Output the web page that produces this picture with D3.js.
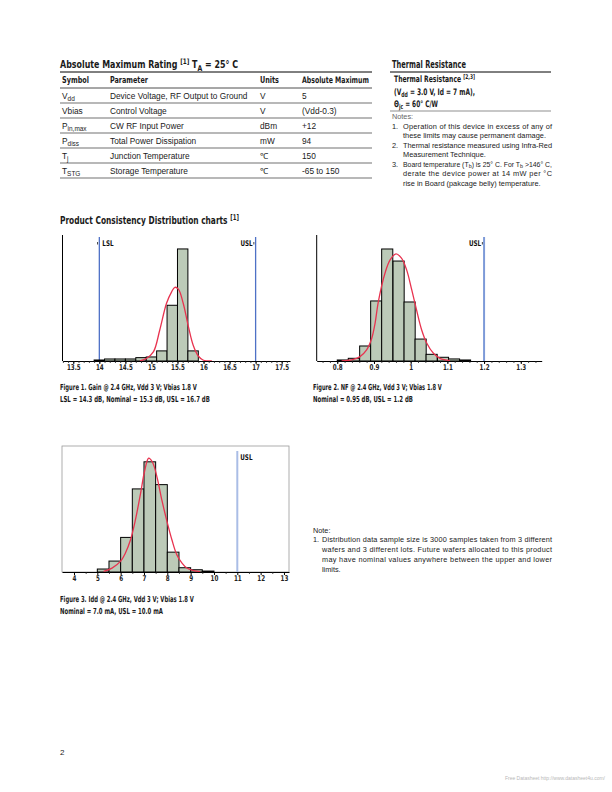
<!DOCTYPE html>
<html><head><meta charset="utf-8">
<script src="https://cdn.jsdelivr.net/npm/d3@7/dist/d3.min.js"></script>
<style>body{margin:0;background:#fff} text{white-space:pre}</style>
</head><body>
<svg id="page" width="612" height="792"></svg>
<script>
// ---------------- DATA ----------------
// Figure 1: Gain
const gainBinStart = [13.9,14.1,14.3,14.5,14.7,14.9,15.1,15.3,15.5,15.7];
const gainBinWidth = 0.2;
const gainCounts = [15,30,30,30,50,60,150,827,1663,150];
const gainFitX = [14.78,14.91,15.04,15.16,15.29,15.39,15.45,15.52,15.61,15.71,15.80,15.90,15.99,16.16];
const gainFitY = [0,40,138,460,856,1030,1094,1064,857,510,238,74,15,0];
const gainTicks = [13.5,14,14.5,15,15.5,16,16.5,17,17.5];
const gainTickLabels = ["13.5","14","14.5","15","15.5","16","16.5","17","17.5"];
const gainLimitNames = ["LSL","USL"];
const gainLimitValues = [14,17];

// Figure 2: NF
const nfBinStart = [0.800,0.830,0.861,0.891,0.921,0.952,0.982,1.012,1.042,1.073,1.103,1.133];
const nfBinWidth = 0.0303;
const nfCounts = [8,21,117,468,873,779,460,171,52,29,16,8];
const nfFitX = [0.812,0.844,0.862,0.880,0.894,0.903,0.912,0.930,0.944,0.960,0.975,0.989,1.003,1.016,1.030,1.044,1.062,1.080,1.107];
const nfFitY = [0,13,34,86,177,294,463,684,788,835,801,710,554,398,242,138,60,21,3];
const nfTicks = [0.8,0.9,1.0,1.1,1.2,1.3];
const nfTickLabels = ["0.8","0.9","1","1.1","1.2","1.3"];
const nfLimitNames = ["USL"];
const nfLimitValues = [1.2];

// Figure 3: Idd
const iddBinStart = [5.0,5.5,6.0,6.5,7.0,7.5,8.0,8.5,9.0,9.5];
const iddBinWidth = 0.5;
const iddCounts = [25,92,291,699,927,735,167,36,19,8];
const iddFitX = [5.27,5.63,5.99,6.20,6.42,6.63,6.85,7.03,7.20,7.37,7.56,7.77,7.99,8.20,8.41,8.63,8.84,9.13,9.41];
const iddFitY = [5,33,89,158,269,436,658,852,957,921,796,602,422,269,144,75,33,11,3];
const iddTicks = [4,5,6,7,8,9,10,11,12,13];
const iddTickLabels = ["4","5","6","7","8","9","10","11","12","13"];
const iddLimitNames = ["USL"];
const iddLimitValues = [11];

// Absolute maximum rating table
const absHeader = ["Symbol","Parameter","Units","Absolute Maximum"];
const absSymbols = [[["V"],["dd","sub"]],[["Vbias"]],[["P"],["in,max","sub"]],[["P"],["diss","sub"]],[["T"],["j","sub"]],[["T"],["STG","sub"]]];
const absParams = ["Device Voltage, RF Output to Ground","Control Voltage","CW RF Input Power","Total Power Dissipation","Junction Temperature","Storage Temperature"];
const absUnits = ["V","V","dBm","mW","\u2103","\u2103"];
const absMax = ["5","(Vdd-0.3)","+12","94","150","-65 to 150"];

// ---------------- DRAWING ----------------
const svg = d3.select("#page");
const BOLD = "'Liberation Sans Narrow','DejaVu Sans Condensed',sans-serif";
const BODY = "'Liberation Sans','Arial',sans-serif";

// rich text: each part is its own <text>, laid out by measured width
function rich(x, y, parts, opts) {
  const g = svg.append("g");
  let cursor = 0;
  parts.forEach(p => {
    const kind = p[1];
    let dy = 0, fs = opts.size;
    if (kind === "sub") { dy = opts.size * 0.25; fs = opts.size * 0.78; }
    if (kind === "sup") { dy = -opts.size * 0.38; fs = opts.size * 0.72; }
    const t = g.append("text").attr("x", cursor).attr("y", dy)
      .attr("font-family", opts.family).attr("font-size", fs)
      .attr("font-weight", opts.weight || "normal").attr("fill", opts.fill || "#1a1a1a").text(p[0]);
    if (opts.textLength && parts.length === 1) {
      t.attr("textLength", opts.textLength).attr("lengthAdjust", "spacing");
      cursor += opts.textLength;
    } else {
      cursor += t.node().getComputedTextLength();
    }
  });
  let sx = opts.sx || 1;
  if (opts.width) sx = opts.width / cursor;
  if (opts.textLength && parts.length > 1) sx = opts.textLength / cursor;
  g.attr("transform", `translate(${x},${y}) scale(${sx},1)`);
  return g;
}
const B = (size, width) => ({family: BOLD, size: size, weight: "bold", width: width});

// Title: Absolute Maximum Rating
rich(60, 68, [["Absolute Maximum Rating "],["[1]","sup"],[" T"],["A","sub"],[" = 25\u00B0 C"]], B(10.3, 178));
svg.append("line").attr("x1",60).attr("x2",372).attr("y1",72).attr("y2",72).attr("stroke","#000").attr("stroke-width",1);
const colX = [62,110,260,302];
const headW = [27,38,19,67];
absHeader.forEach((h,i) => rich(colX[i], 83, [[h]], B(8.8, headW[i])));
svg.append("line").attr("x1",60).attr("x2",372).attr("y1",88).attr("y2",88).attr("stroke","#222").attr("stroke-width",0.8);
absParams.forEach((p,i) => {
  const yb = 98.5 + i*15;
  const o = {family: BODY, size: 8.3};
  rich(colX[0], yb, absSymbols[i], o);
  rich(colX[1], yb, [[p]], o);
  rich(colX[2], yb, [[absUnits[i]]], o);
  rich(colX[3], yb, [[absMax[i]]], o);
  svg.append("line").attr("x1",60).attr("x2",372).attr("y1",103+i*15).attr("y2",103+i*15).attr("stroke","#333").attr("stroke-width",0.7);
});

// Thermal resistance
rich(392, 68, [["Thermal Resistance"]], B(10.3, 74));
svg.append("line").attr("x1",390).attr("x2",551).attr("y1",72).attr("y2",72).attr("stroke","#000").attr("stroke-width",1);
rich(394, 82, [["Thermal Resistance "],["[2,3]","sup"]], B(9, 81));
rich(394, 95, [["(V"],["dd","sub"],[" = 3.0 V, Id = 7 mA),"]], B(9, 81));
rich(394, 107, [["\u0398"],["jc","sub"],[" = 60\u00B0 C/W"]], B(9, 44));
svg.append("line").attr("x1",390).attr("x2",551).attr("y1",111).attr("y2",111).attr("stroke","#444").attr("stroke-width",0.6);
rich(392, 118.5, [["Notes:"]], {family: BODY, size: 7.3, fill: "#666"});
const thermNotes = [
  ["1.", [["Operation of this device in excess of any of"]], true, 128.5],
  ["", [["these limits may cause permanent damage."]], false, 137.5],
  ["2.", [["Thermal resistance measured using Infra-Red"]], true, 147.5],
  ["", [["Measurement Technique."]], false, 156.5],
  ["3.", [["Board temperature (T"],["b","sub"],[") is 25\u00B0 C. For T"],["b","sub"],[" >146\u00B0 C,"]], true, 166.5],
  ["", [["derate the device power at 14 mW per \u00B0C"]], true, 176],
  ["", [["rise in Board (pakcage belly) temperature."]], false, 185.5]
];
thermNotes.forEach(n => {
  if (n[0]) rich(392, n[3], [[n[0]]], {family: BODY, size: 7.4});
  rich(403, n[3], n[1], {family: BODY, size: 7.4, textLength: n[2] ? 149 : null});
});

// Section title
rich(60, 224, [["Product Consistency Distribution charts "],["[1]","sup"]], B(10.8, 179));

// Histogram chart helper
function drawHist(c) {
  const g = svg.append("g");
  const x = d3.scaleLinear().domain(c.xDomain).range([c.left, c.right]);
  const y = d3.scaleLinear().domain(c.yDomain).range([c.bottom, c.top]);
  if (c.frame) {
    g.append("rect").attr("x", c.left).attr("y", c.top).attr("width", c.right - c.left).attr("height", c.bottom - c.top)
      .attr("fill", "none").attr("stroke", "#9a9a9a").attr("stroke-width", 0.8);
  } else {
    g.append("line").attr("x1", c.left).attr("x2", c.left).attr("y1", c.top).attr("y2", c.bottom).attr("stroke", "#000").attr("stroke-width", 1);
  }
  // limit lines
  c.limitValues.forEach((v, i) => {
    g.append("line").attr("x1", x(v)).attr("x2", x(v)).attr("y1", c.limitTop).attr("y2", c.bottom)
      .attr("stroke", c.limitColor).attr("stroke-width", c.limitWidth);
    const name = c.limitNames[i];
    const right = c.labelSide[i] === "right";
    g.append("text").attr("transform", `translate(${right ? x(v) + 3 : x(v) - 3},${c.limitTop + 9}) scale(0.8,1)`)
      .attr("text-anchor", right ? "start" : "end").attr("font-family", BOLD).attr("font-weight", "bold")
      .attr("font-size", 7.8).attr("fill", "#111").text(name);
    if (c.limitMark) g.append("rect").attr("x", x(v) - 2.2).attr("y", c.limitTop + 5).attr("width", 0.9).attr("height", 2.5).attr("fill", "#333");
  });
  // bars
  g.selectAll("rect.bar").data(c.binStart).enter().append("rect").attr("class", "bar")
    .attr("x", d => x(d)).attr("width", d => x(d + c.binWidth) - x(d))
    .attr("y", (d, i) => y(c.counts[i])).attr("height", (d, i) => y(0) - y(c.counts[i]))
    .attr("fill", "#bccab8").attr("stroke", "#000").attr("stroke-width", 1);
  // fit curve
  const line = d3.line().x(d => x(d[0])).y(d => y(d[1])).curve(d3.curveCatmullRom.alpha(0.5));
  g.append("path").datum(c.fitX.map((v, i) => [v, c.fitY[i]])).attr("d", line)
    .attr("fill", "none").attr("stroke", "#e8334f").attr("stroke-width", 1.3);
  // axes
  const minorAxis = d3.axisBottom(x).tickValues(c.minorTicks).tickSize(2).tickSizeOuter(0).tickFormat("");
  const ga = g.append("g").attr("transform", `translate(0,${c.bottom})`).call(minorAxis);
  ga.select(".domain").attr("stroke", "#000").attr("stroke-width", 1);
  ga.selectAll(".tick line").attr("stroke", "#222").attr("stroke-width", 0.8);
  const majorAxis = d3.axisBottom(x).tickValues(c.ticks).tickSize(3).tickSizeOuter(0)
    .tickFormat((d, i) => c.tickLabels[i]);
  const gm = g.append("g").attr("transform", `translate(0,${c.bottom})`).call(majorAxis);
  gm.select(".domain").remove();
  gm.selectAll(".tick line").attr("stroke", "#000").attr("stroke-width", 1);
  gm.selectAll(".tick text").attr("font-family", BOLD).attr("font-weight", "bold").attr("font-size", 8)
    .attr("fill", "#222").attr("dy", "0.5em").attr("y", 0).attr("transform", "translate(0,5) scale(0.78,1)");
}

function range(a, b, step) { const out = []; for (let k = 0; a + k*step <= b + 1e-9; k++) out.push(+(a + k*step).toFixed(4)); return out; }

drawHist({left: 62.5, right: 290, top: 235, bottom: 361, xDomain: [13.293, 17.66], yDomain: [0, 1870],
  binStart: gainBinStart, binWidth: gainBinWidth, counts: gainCounts, fitX: gainFitX, fitY: gainFitY,
  ticks: gainTicks, tickLabels: gainTickLabels, minorTicks: range(13.3, 17.6, 0.1),
  limitValues: gainLimitValues, limitNames: gainLimitNames, labelSide: ["right","left"], limitTop: 237,
  limitColor: "#4e71c6", limitWidth: 1.3, limitMark: true});

drawHist({left: 316.7, right: 541.7, top: 235, bottom: 361, xDomain: [0.744, 1.357], yDomain: [0, 982],
  binStart: nfBinStart, binWidth: nfBinWidth, counts: nfCounts, fitX: nfFitX, fitY: nfFitY,
  ticks: nfTicks, tickLabels: nfTickLabels, minorTicks: range(0.76, 1.34, 0.02),
  limitValues: nfLimitValues, limitNames: nfLimitNames, labelSide: ["left"], limitTop: 237,
  limitColor: "#7d9ad8", limitWidth: 2, limitMark: true});

drawHist({left: 62, right: 289, top: 446, bottom: 572, frame: true, xDomain: [3.486, 13.216], yDomain: [0, 1060],
  binStart: iddBinStart, binWidth: iddBinWidth, counts: iddCounts, fitX: iddFitX, fitY: iddFitY,
  ticks: iddTicks, tickLabels: iddTickLabels, minorTicks: range(4.5, 12.5, 1),
  limitValues: iddLimitValues, limitNames: iddLimitNames, labelSide: ["right"], limitTop: 451,
  limitColor: "#aabde6", limitWidth: 2, limitMark: false});

// Captions
rich(60, 390, [["Figure 1. Gain @ 2.4 GHz, Vdd 3 V; Vbias 1.8 V"]], B(8.3, 137));
rich(60, 402, [["LSL = 14.3 dB, Nominal = 15.3 dB, USL = 16.7 dB"]], B(8.3, 150));
rich(313, 390, [["Figure 2. NF @ 2.4 GHz, Vdd 3 V; Vbias 1.8 V"]], B(8.3, 129));
rich(313, 402, [["Nominal = 0.95 dB, USL = 1.2 dB"]], B(8.3, 100));
rich(60, 602, [["Figure 3. Idd @ 2.4 GHz, Vdd 3 V; Vbias 1.8 V"]], B(8.3, 134));
rich(60, 614, [["Nominal = 7.0 mA, USL = 10.0 mA"]], B(8.3, 103));

// Note
rich(313, 532.5, [["Note:"]], {family: BODY, size: 7.3});
const noteLines = [
  ["1.", "Distribution data sample size is 3000 samples taken from 3 different", true],
  ["", "wafers and 3 different lots. Future wafers allocated to this product", true],
  ["", "may have nominal values anywhere between the upper and lower", true],
  ["", "limits.", false]
];
noteLines.forEach((n, i) => {
  const yb = 541.5 + i*10;
  if (n[0]) rich(313, yb, [[n[0]]], {family: BODY, size: 7.3});
  rich(322, yb, [[n[1]]], {family: BODY, size: 7.3, textLength: n[2] ? 230 : null});
});

// Page number and footer
rich(60, 755, [["2"]], {family: BODY, size: 8, fill: "#222"});
svg.append("text").attr("x", 605).attr("y", 780).attr("text-anchor", "end").attr("font-family", BODY)
  .attr("font-size", 5).attr("fill", "#b8b8b8").text("Free Datasheet http://www.datasheet4u.com/");
</script>
</body></html>
